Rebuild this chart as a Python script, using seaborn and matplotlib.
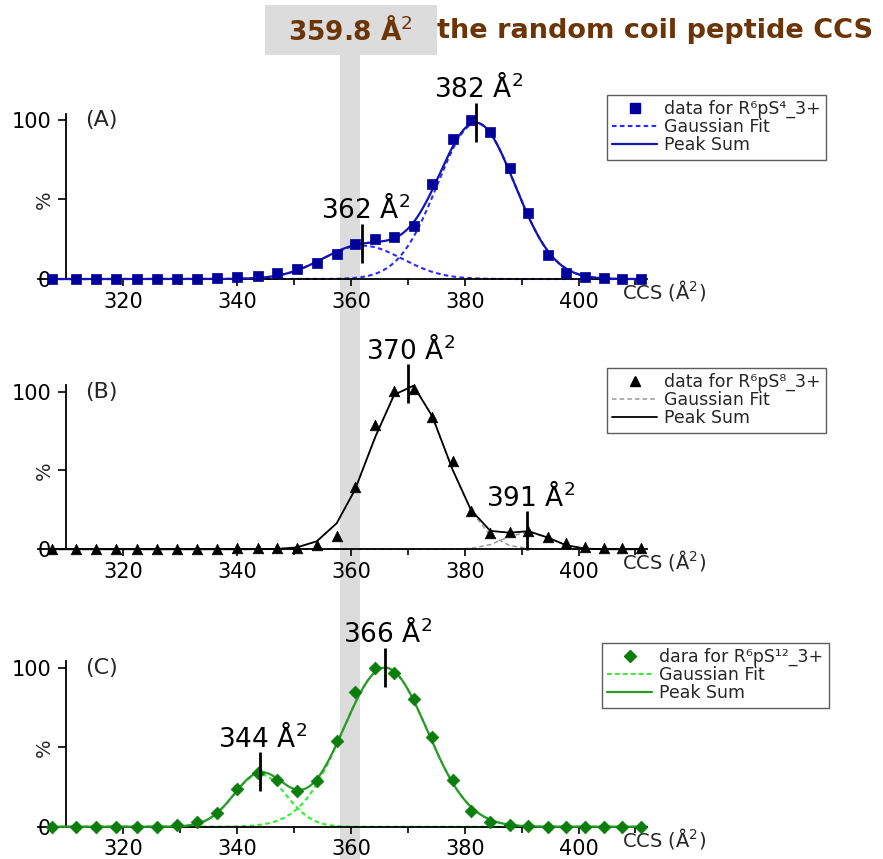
import numpy as np
import pandas as pd
import seaborn as sns
import matplotlib
matplotlib.use("Agg")
import matplotlib.pyplot as plt
from matplotlib.lines import Line2D
from matplotlib.patches import Rectangle
from matplotlib.transforms import blended_transform_factory

sns.set_theme(style="ticks")
plt.rcParams["font.family"] = ["DejaVu Sans"]
plt.rcParams["mathtext.fontset"] = "dejavusans"

# CCS grid converted from drift time (Å^2); spacing shrinks slightly with size
ccs = [307.4, 311.6, 315.2, 318.7, 322.4, 326.0, 329.5, 333.0, 336.5, 340.0,
       343.6, 347.0, 350.5, 354.0, 357.5, 360.7, 364.3, 367.6, 371.0, 374.3,
       377.9, 381.1, 384.5, 387.9, 391.2, 394.6, 397.8, 401.2, 404.4, 407.6,
       410.9]

# Normalised intensities (%)
int_a = [0, 0, 0, 0, 0, 0, 0, 0, 0.5, 1.5, 2, 4, 6.3, 10, 15.7, 22,
         25.4, 26.6, 33.3, 59.6, 88, 100, 92.6, 70, 41.3, 15, 4, 1, 0.5, 0.3, 0]
int_b = [0.3, 0.3, 0.3, 0.3, 0.3, 0.3, 0.3, 0.3, 0.3, 0.5, 1, 1, 0.8, 2.5,
         8.6, 39.7, 78.9, 100.6, 101.5, 84, 56.2, 24.5, 10.5, 11.2, 11.8, 7.6,
         3.8, 1.6, 0.5, 0.5, 0.5]
int_c = [0, 0, 0, 0, 0, 0, 1, 3.1, 8.8, 23.7, 34, 29.4, 22.6, 28.7, 53.9, 85,
         99.7, 96.5, 80.3, 56.6, 29.4, 9.9, 3.1, 1, 0.5, 0, 0, 0, 0, 0, 0]

# Gaussian components: centre (Å^2), height (%), sigma (Å^2)
centers_a, heights_a, sigmas_a = [362, 382], [21, 98], [7.0, 6.8]
centers_b, heights_b, sigmas_b = [370, 391], [105, 11], [6.5, 4.0]
centers_c, heights_c, sigmas_c = [344, 366], [33, 100], [4.6, 7.4]

coil_ccs = 359.8

legend_labels = ["data for R⁶pS⁴_3+", "data for R⁶pS⁸_3+", "dara for R⁶pS¹²_3+"]
panel_tags = ["(A)", "(B)", "(C)"]

W, H = 883, 859
fig = plt.figure(figsize=(W / 100, H / 100), dpi=100)
fig.patch.set_facecolor("white")

axes_px = [(112.0, 283.8), (383.8, 554.0), (659.7, 831.5)]
left_px, right_px = 38.0, 646.8

styles = [
    dict(marker="s", s=52, mcolor="#00009A", line="#1414B0", fit="#2B2BFF",
         fit_ls=(0, (2.2, 1.6)), fit_lw=1.5, line_lw=1.6, smooth=True),
    dict(marker="^", s=58, mcolor="#000000", line="#000000", fit="#9A9A9A",
         fit_ls=(0, (3, 2)), fit_lw=1.1, line_lw=1.3, smooth=False),
    dict(marker="D", s=42, mcolor="#0A7D0A", line="#2A9A2A", fit="#33EE33",
         fit_ls=(0, (2.2, 1.6)), fit_lw=1.5, line_lw=1.6, smooth=True),
]

data_sets = [int_a, int_b, int_c]
fits = [(centers_a, heights_a, sigmas_a),
        (centers_b, heights_b, sigmas_b),
        (centers_c, heights_c, sigmas_c)]
legend_tops = [95, 368, 643]
legend_lefts = [607, 607, 602]


def gauss(x, c, h, s):
    return h * np.exp(-((x - c) ** 2) / (2 * s ** 2))


axes = []
for i in range(3):
    top, bot = axes_px[i]
    ax = fig.add_axes([left_px / W, 1 - bot / H, (right_px - left_px) / W, (bot - top) / H])
    ax.set_facecolor("none")
    axes.append(ax)
    st = styles[i]
    cents, hts, sigs = fits[i]
    x_data = np.array(ccs)

    if st["smooth"]:
        xs = np.linspace(ccs[0], ccs[-1], 500)
    else:
        xs = x_data
    comps = [gauss(xs, c, h, s) for c, h, s in zip(cents, hts, sigs)]
    total = np.sum(comps, axis=0)

    for comp in comps:
        ax.plot(xs, comp, color=st["fit"], ls=st["fit_ls"], lw=st["fit_lw"], zorder=2)
    sns.lineplot(x=xs, y=total, ax=ax, color=st["line"], lw=st["line_lw"],
                 estimator=None, sort=False, zorder=3)
    df = pd.DataFrame({"ccs": ccs, "intensity": data_sets[i]})
    sns.scatterplot(data=df, x="ccs", y="intensity", ax=ax, marker=st["marker"],
                    s=st["s"], color=st["mcolor"], edgecolor=st["mcolor"],
                    linewidth=0.5, clip_on=False, zorder=4, legend=False)

    # Peak markers and labels
    for c, h, s in zip(cents, hts, sigs):
        yc = sum(gauss(c, cc, hh, ss) for cc, hh, ss in zip(cents, hts, sigs))
        ax.plot([c, c], [yc - 12, yc + 12.5], color="black", lw=2, zorder=5,
                clip_on=False, solid_capstyle="butt")
        ax.text(c + 0.5, yc + 16, f"{c} Å$^2$", ha="center", va="baseline",
                fontsize=19, color="black", zorder=6, clip_on=False)

    # Axes styling
    ax.set_xlim(305, 412)
    ax.set_ylim(-3, 105)
    sns.despine(ax=ax)
    ax.spines["left"].set_position(("data", 310))
    ax.spines["bottom"].set_position(("data", 0))
    ax.spines["left"].set_bounds(0, 104)
    for sp in ("left", "bottom"):
        ax.spines[sp].set_linewidth(1.3)
        ax.spines[sp].set_color("black")
    ax.set_xticks([320, 340, 360, 380, 400])
    ax.set_xticks([330, 350, 370, 390, 410], minor=True)
    ax.set_yticks([0, 50, 100])
    ax.set_yticklabels(["0", "", "100"])
    ax.tick_params(axis="both", which="major", direction="out", length=5, width=1.2,
                   labelsize=15, color="black", labelcolor="black")
    ax.tick_params(axis="x", which="major", pad=4)
    ax.tick_params(axis="y", which="major", length=6, pad=5)
    ax.tick_params(axis="x", which="minor", direction="out", length=4, width=1.2, color="black")
    ax.set_xlabel("")
    ax.set_ylabel("")
    ax.text(306.2, 50, "%", rotation=90, ha="center", va="center", fontsize=14)
    ax.text(313.3, 100, panel_tags[i], ha="left", va="center", fontsize=16)
    ax.annotate("CCS (Å$^2$)", xy=(407.6, 0), xycoords="data", xytext=(0, -14),
                textcoords="offset points", ha="left", va="baseline", fontsize=14,
                annotation_clip=False)

    handles = [
        Line2D([], [], marker=st["marker"], ls="none", color=st["mcolor"],
               markersize=7 if st["marker"] != "D" else 6.5),
        Line2D([], [], ls=st["fit_ls"], color=st["fit"], lw=st["fit_lw"]),
        Line2D([], [], ls="-", color=st["line"], lw=st["line_lw"]),
    ]
    leg = fig.legend(handles, [legend_labels[i], "Gaussian Fit", "Peak Sum"],
                     loc="upper left",
                     bbox_to_anchor=(legend_lefts[i] / W, 1 - legend_tops[i] / H),
                     frameon=True, fancybox=False, fontsize=12.5, handlelength=2.6,
                     handletextpad=0.4, labelspacing=0.0, borderpad=0.3,
                     borderaxespad=0)
    leg.get_frame().set_edgecolor("#333333")
    leg.get_frame().set_linewidth(1.0)

# Random-coil reference band and its caption box
band_tf = blended_transform_factory(axes[0].transData, fig.transFigure)
band = Rectangle((coil_ccs - 1.75, 0), 3.5, 1 - 55 / H, transform=band_tf,
                 facecolor="#DCDCDC", edgecolor="none", zorder=-1)
fig.add_artist(band)
box = Rectangle((265 / W, 1 - 55 / H), (437 - 265) / W, 50 / H,
                transform=fig.transFigure, facecolor="#DCDCDC",
                edgecolor="none", zorder=-1)
fig.add_artist(box)
fig.text(350 / W, 1 - 31 / H, f"{coil_ccs} Å$^2$", ha="center", va="center",
         fontsize=19, fontweight="bold", color="#6B3508")
fig.text(437 / W, 1 - 31 / H, "the random coil peptide CCS", ha="left",
         va="center", fontsize=19.5, fontweight="bold", color="#6B3508")

fig.savefig("out.png", dpi=100)
